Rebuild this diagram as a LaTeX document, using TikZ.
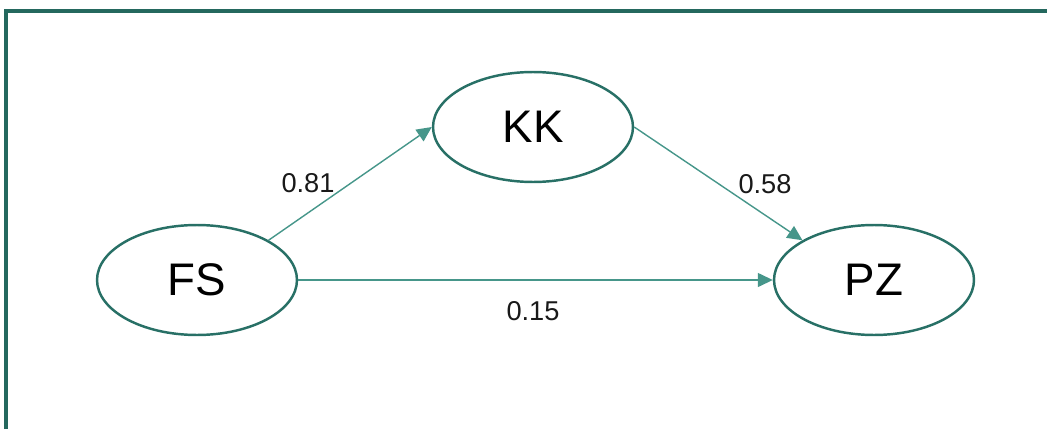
\documentclass[tikz,border=0pt]{standalone}
\usepackage{fontspec}
\setmainfont{Liberation Sans}
\usepackage{tikz}
\usetikzlibrary{arrows.meta, calc}
\usetikzlibrary{shapes.geometric}
\definecolor{myteal}{RGB}{40, 112, 102}
\definecolor{myline}{RGB}{70, 150, 138}
\definecolor{myframe}{RGB}{36, 104, 94}
\tikzstyle{latent} = [ellipse, draw=myteal, line width=1.4pt,
    minimum width=4cm, minimum height=2.2cm, inner sep=0,
    fill=white, font=\fontsize{26}{30}\selectfont]
\tikzstyle{path} = [draw=myline, line width=0.8pt,
    -{Triangle[length=0.3cm,width=0.28cm]}]
\tikzstyle{coef} = [font=\fontsize{15.5}{18}\selectfont, text=black!90]

\begin{document}
\begin{tikzpicture}[x=0.02cm, y=-0.02cm]
\useasboundingbox (0,0) rectangle (1047,429);

% frame on top and left
\draw[myframe, line width=1.8pt] (6,429) -- (6,11) -- (1047,11);

% 1. Place the constructs
\node[latent] (fs) at (197,280) {FS};
\node[latent] (kk) at (533,127) {KK};
\node[latent] (pz) at (874,280) {PZ};

% paths with coefficients
\draw[path] (fs.north east) -- (kk.west);
\draw[path] (kk.east) -- (pz.north west);
\draw[path] (fs.east) -- (pz.west);

\node[coef] (c1) at (308,183) {0.81};
\node[coef] (c2) at (765,184) {0.58};
\node[coef] (c3) at (533,311) {0.15};

\end{tikzpicture}
\end{document}
